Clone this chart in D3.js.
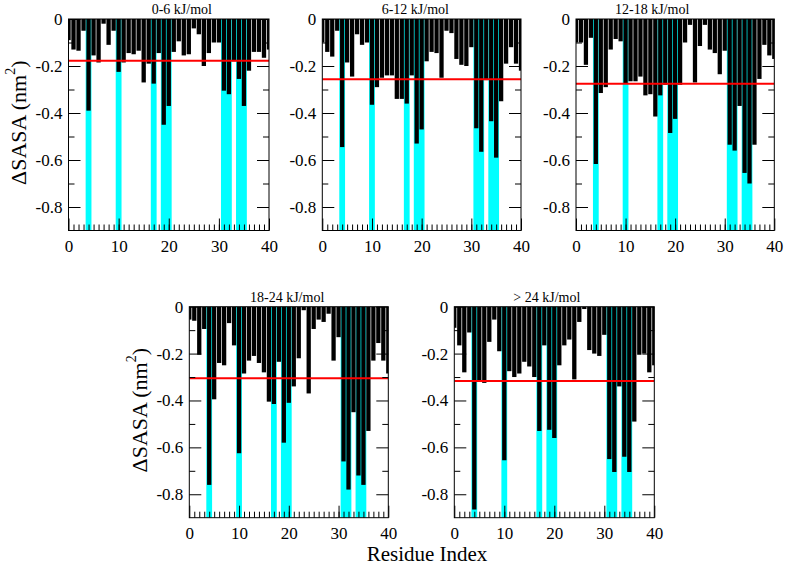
<!DOCTYPE html>
<html><head><meta charset="utf-8">
<script src="https://cdn.jsdelivr.net/npm/d3@7/dist/d3.min.js"></script>
<style>
body{margin:0;background:#fff}
svg{display:block}
text{font-family:"Liberation Serif","Times New Roman",serif;fill:#000}
</style>
</head><body>
<svg id="chart" width="787" height="569"></svg>
<script>
// ---------- data ----------
const residues = d3.range(0, 41);               // residue index 0..40
const highlighted = [4, 10, 17, 19, 20, 31, 32, 34, 35];
const titles = ["0-6 kJ/mol", "6-12 kJ/mol", "12-18 kJ/mol", "18-24 kJ/mol", "> 24 kJ/mol"];

const dsasa_0_6 = [-0.09,-0.13,-0.135,-0.05,-0.39,-0.155,-0.185,-0.02,-0.11,-0.05,
  -0.225,-0.185,-0.145,-0.15,-0.135,-0.27,-0.19,-0.275,-0.145,-0.45,
  -0.37,-0.14,-0.095,-0.155,-0.15,-0.04,-0.065,-0.2,-0.145,-0.1,
  -0.1,-0.305,-0.32,-0.18,-0.255,-0.37,-0.22,-0.14,-0.14,-0.165,-0.13];
const dsasa_6_12 = [-0.1,-0.14,-0.16,-0.05,-0.545,-0.185,-0.245,-0.065,-0.11,-0.1,
  -0.365,-0.29,-0.25,-0.24,-0.24,-0.34,-0.34,-0.36,-0.24,-0.53,
  -0.47,-0.18,-0.14,-0.145,-0.25,-0.05,-0.06,-0.17,-0.195,-0.2,
  -0.12,-0.465,-0.565,-0.26,-0.435,-0.59,-0.35,-0.19,-0.12,-0.19,-0.22];
const dsasa_12_18 = [-0.1,-0.1,-0.195,-0.08,-0.617,-0.315,-0.29,-0.13,-0.085,-0.095,
  -0.275,-0.265,-0.265,-0.245,-0.325,-0.32,-0.415,-0.325,-0.28,-0.485,
  -0.425,-0.28,-0.1,-0.025,-0.27,-0.115,-0.025,-0.13,-0.145,-0.235,
  -0.135,-0.535,-0.56,-0.37,-0.655,-0.7,-0.535,-0.255,-0.11,-0.155,-0.17];
const dsasa_18_24 = [-0.055,-0.06,-0.205,-0.095,-0.76,-0.395,-0.24,-0.25,-0.07,-0.165,
  -0.625,-0.285,-0.23,-0.21,-0.24,-0.28,-0.405,-0.415,-0.235,-0.58,
  -0.41,-0.34,-0.22,-0.015,-0.37,-0.095,-0.055,-0.065,-0.03,-0.23,
  -0.13,-0.66,-0.78,-0.45,-0.72,-0.76,-0.53,-0.23,-0.155,-0.23,-0.285];
const dsasa_gt24 = [-0.09,-0.165,-0.28,-0.11,-0.865,-0.32,-0.325,-0.15,-0.055,-0.19,
  -0.655,-0.275,-0.3,-0.285,-0.235,-0.255,-0.3,-0.53,-0.165,-0.525,
  -0.56,-0.25,-0.165,-0.14,-0.31,-0.065,-0.01,-0.185,-0.2,-0.21,
  -0.12,-0.65,-0.705,-0.34,-0.64,-0.705,-0.49,-0.205,-0.2,-0.28,-0.25];
const meanLines = [-0.178, -0.256, -0.275, -0.305, -0.317];

const yMajorTicks = [0, -0.2, -0.4, -0.6, -0.8];
const yMinorTicks = [-0.1, -0.3, -0.5, -0.7];
const xMajorTicks = [0, 10, 20, 30, 40];
const xMinorTicks = d3.range(1, 40);

const series = [dsasa_0_6, dsasa_6_12, dsasa_12_18, dsasa_18_24, dsasa_gt24];

// ---------- layout ----------
const layout = [
  {x0: 68.5,  x1: 269,   yt: 19,    yb: 230.5, tx: 151.7, ty: 14,    lx: 18},
  {x0: 322.3, x1: 521,   yt: 19,    yb: 230.5, tx: 381.7, ty: 14},
  {x0: 576,   x1: 774.3, yt: 19,    yb: 230.5, tx: 615,   ty: 14},
  {x0: 189.3, x1: 388.3, yt: 306.7, yb: 517.7, tx: 250,   ty: 302,   lx: 139},
  {x0: 454.3, x1: 654.3, yt: 306.7, yb: 517.7, tx: 513.3, ty: 302}
];

const svg = d3.select("#chart");
const serif = '"Liberation Serif","Times New Roman",serif';

series.forEach((vals, p) => {
  const L = layout[p];
  const x = d3.scaleLinear().domain([0, 40]).range([L.x0, L.x1]);
  const y = d3.scaleLinear().domain([-0.9, 0]).range([L.yb, L.yt]);
  const g = svg.append("g");
  const clipId = "clip" + p;
  g.append("clipPath").attr("id", clipId).append("rect")
    .attr("x", L.x0).attr("y", L.yt).attr("width", L.x1 - L.x0).attr("height", L.yb - L.yt);
  const plot = g.append("g").attr("clip-path", `url(#${clipId})`);

  // cyan full-height columns
  plot.selectAll("rect.hl").data(highlighted).join("rect").attr("class", "hl")
    .attr("x", d => x(d - 0.5) - 0.4)
    .attr("width", d => x(d + 0.5) - x(d - 0.5) + 0.8)
    .attr("y", y(0)).attr("height", y(-0.9) - y(0))
    .attr("fill", "#00ffff");

  // black bars
  plot.selectAll("rect.bar").data(residues).join("rect").attr("class", "bar")
    .attr("x", d => x(d - 0.5) + 0.35)
    .attr("width", d => x(d + 0.5) - x(d - 0.5) - 0.7)
    .attr("y", y(0))
    .attr("height", d => y(vals[d]) - y(0))
    .attr("fill", "#000");

  // mean line
  plot.append("line")
    .attr("x1", L.x0).attr("x2", L.x1)
    .attr("y1", y(meanLines[p])).attr("y2", y(meanLines[p]))
    .attr("stroke", "#ff0000").attr("stroke-width", 2);

  // axes
  const styleAxis = sel => {
    sel.attr("font-family", serif).attr("font-size", 17);
    sel.select(".domain").remove();
    sel.selectAll("line").attr("stroke", "#000").attr("stroke-width", 1);
    sel.selectAll("text").style("font-family", serif).style("font-size", "17px").attr("fill", "#000");
  };
  g.append("g").attr("transform", `translate(${L.x0},0)`)
    .call(d3.axisLeft(y).tickValues(yMajorTicks).tickSizeInner(-12).tickSizeOuter(0).tickPadding(6)
      .tickFormat(d => d === 0 ? "0" : d.toFixed(1)))
    .call(styleAxis);
  g.append("g").attr("transform", `translate(${L.x0},0)`)
    .call(d3.axisLeft(y).tickValues(yMinorTicks).tickSizeInner(-6).tickSizeOuter(0).tickFormat(""))
    .call(styleAxis);
  g.append("g").attr("transform", `translate(${L.x1},0)`)
    .call(d3.axisRight(y).tickValues(yMajorTicks).tickSizeInner(-12).tickSizeOuter(0).tickFormat(""))
    .call(styleAxis);
  g.append("g").attr("transform", `translate(${L.x1},0)`)
    .call(d3.axisRight(y).tickValues(yMinorTicks).tickSizeInner(-6).tickSizeOuter(0).tickFormat(""))
    .call(styleAxis);
  g.append("g").attr("transform", `translate(0,${L.yb})`)
    .call(d3.axisBottom(x).tickValues(xMajorTicks).tickSizeInner(-12).tickSizeOuter(0).tickPadding(9)
      .tickFormat(d3.format("d")))
    .call(styleAxis);
  g.append("g").attr("transform", `translate(0,${L.yb})`)
    .call(d3.axisBottom(x).tickValues(xMinorTicks).tickSizeInner(-6).tickSizeOuter(0).tickFormat(""))
    .call(styleAxis);

  // frame
  g.append("rect").attr("x", L.x0).attr("y", L.yt)
    .attr("width", L.x1 - L.x0).attr("height", L.yb - L.yt)
    .attr("fill", "none").attr("stroke", "#000").attr("stroke-width", 1);

  // title
  g.append("text").attr("x", L.tx).attr("y", L.ty).attr("font-size", 14).text(titles[p]);

  // y label
  if (L.lx !== undefined) {
    const cy = (L.yt + L.yb) / 2 - 2;
    const t = g.append("text")
      .attr("transform", `translate(${L.lx},${cy}) rotate(-90)`)
      .attr("text-anchor", "middle").attr("dominant-baseline", "central")
      .attr("font-size", 22);
    t.append("tspan").text("\u0394SASA (nm");
    t.append("tspan").attr("font-size", 14).attr("dy", -8).text("2");
    t.append("tspan").attr("dy", 8).text(")");
  }
});

svg.append("text").attr("x", 427).attr("y", 561).attr("text-anchor", "middle")
  .attr("font-size", 21).text("Residue Index");
</script>
</body></html>
